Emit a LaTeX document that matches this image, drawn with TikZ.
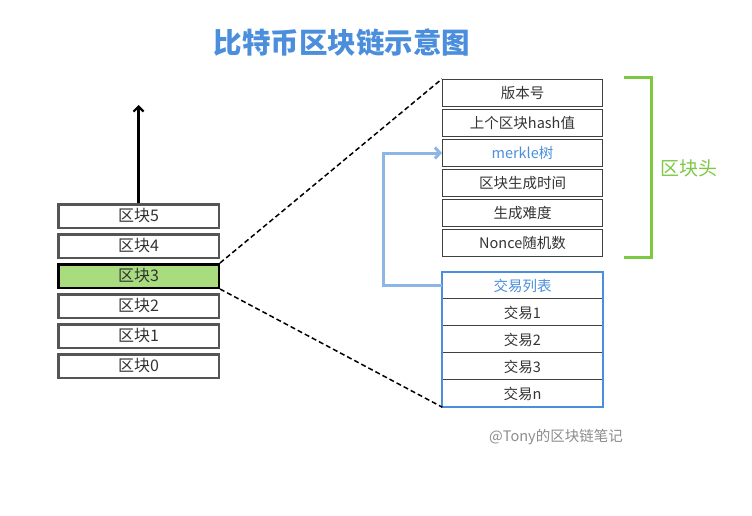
\documentclass[tikz,border=0pt]{standalone}
\usepackage{fontspec}
\setmainfont{Noto Sans CJK SC}
\usetikzlibrary{arrows.meta}
\definecolor{titleblue}{HTML}{4A8EDC}
\definecolor{blkgray}{HTML}{555555}
\definecolor{blkgreen}{HTML}{A8DC7E}
\definecolor{hdrgreen}{HTML}{7CC843}
\definecolor{linkblue}{HTML}{8DB6E6}
\definecolor{txblue}{HTML}{4A8EDC}
\definecolor{txtgray}{HTML}{333333}

\begin{document}
\begin{tikzpicture}[x=1pt,y=-1pt,
  blk/.style={draw=blkgray,line width=2.5pt,minimum width=160.5pt,minimum height=23.5pt,
    inner sep=0pt,text=txtgray,font=\fontsize{16}{16}\selectfont},
  hdr/.style={draw=black!75,line width=1.1pt,minimum width=160pt,minimum height=27pt,
    inner sep=0pt,text=txtgray,font=\fontsize{14.5}{15}\selectfont},
  txrow/.style={minimum width=160pt,minimum height=27pt,inner sep=0pt,
    text=txtgray,font=\fontsize{14.5}{15}\selectfont},
  sep/.style={draw=black!75,line width=0.9pt},
  zoomline/.style={dash pattern=on 5pt off 3pt,line width=1.5pt}
  ]
\useasboundingbox (0,0) rectangle (752,516);

% TITLE
\node (title) at (342,43) {\fontsize{28.5}{28.5}\selectfont\bfseries\color{titleblue}比特币区块链示意图};

% CHAIN
\node[blk] (b5) at (138.5,216) {区块5};
\node[blk] (b4) at (138.5,246) {区块4};
\node[blk,fill=blkgreen,draw=black] (b3) at (138.5,276) {区块3};
\node[blk] (b2) at (138.5,306) {区块2};
\node[blk] (b1) at (138.5,336) {区块1};
\node[blk] (b0) at (138.5,366) {区块0};
\coordinate (top) at (138.5,105);

% HEADER
\node[hdr] (h0) at (522.5,93)  {版本号};
\node[hdr] (h1) at (522.5,123) {上个区块hash值};
\node[hdr,text=txblue] (h2) at (522.5,153) {merkle树};
\node[hdr] (h3) at (522.5,183) {区块生成时间};
\node[hdr] (h4) at (522.5,213) {生成难度};
\node[hdr] (h5) at (522.5,243) {Nonce随机数};

% TRANSACTIONS
\node[txrow,text=txblue] (t0) at (522.5,285.5) {交易列表};
\node[txrow] (t1) at (522.5,312.5) {交易1};
\node[txrow] (t2) at (522.5,339.5) {交易2};
\node[txrow] (t3) at (522.5,366.5) {交易3};
\node[txrow] (t4) at (522.5,393.5) {交易n};
\foreach \r in {1,2,3,4}
  \draw[sep] (t\r.north west) -- (t\r.north east);
\draw[txblue,line width=2pt] (t0.north west) rectangle (t4.south east);

% ARROWS
\draw[line width=2.2pt,-{Straight Barb[length=5pt,width=10pt]}] (b5.north) -- (top);
\draw[zoomline] (b3.north east) -- (h0.north west);
\draw[zoomline] (b3.south east) -- (t4.south west);
\draw[linkblue,line width=3pt,-{Straight Barb[length=5pt,width=11pt]}]
  (t0.west) -- ++(-59,0) |- (h2.west);

% BRACKET
\draw[hdrgreen,line width=3pt] (h0.north east) ++(21,-1.5) -- ++(27,0) -- ++(0,180) -- ++(-27,0);
\node[text=hdrgreen,font=\fontsize{19}{19}\selectfont] (hlabel) at (689,168) {区块头};

% NOTES
\node[text=black!45,font=\fontsize{14.5}{15}\selectfont] (credit) at (556,437) {@Tony的区块链笔记};
\end{tikzpicture}
\end{document}
